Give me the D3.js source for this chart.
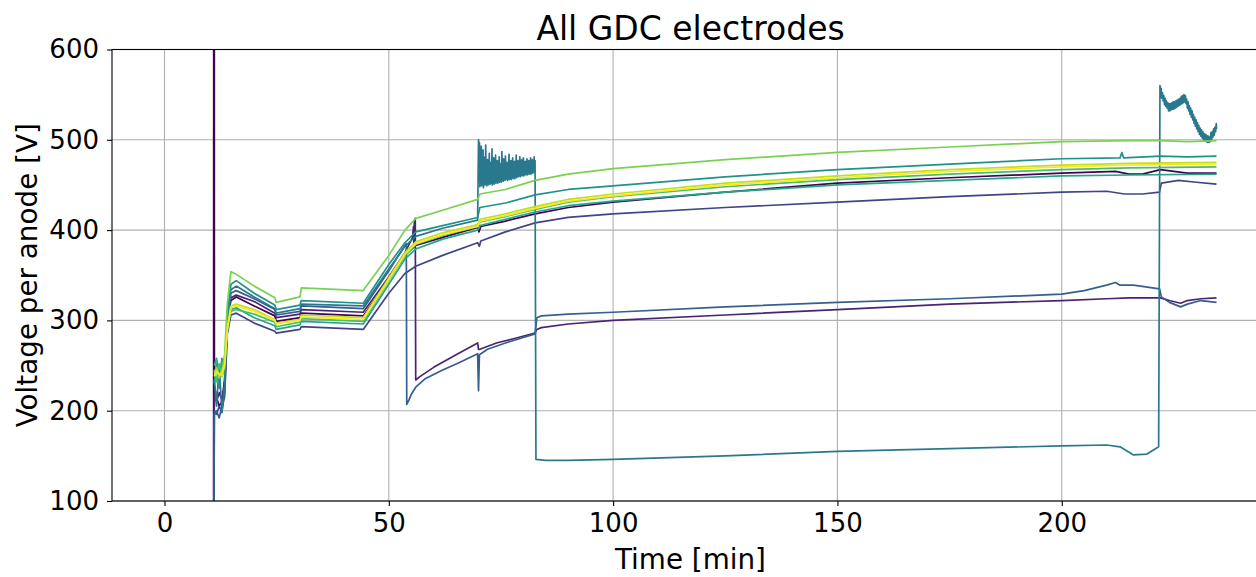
<!DOCTYPE html>
<html>
<head>
<meta charset="utf-8">
<script src="https://cdn.jsdelivr.net/npm/d3@7"></script>
<style>
body { margin: 0; background: #fff; }
svg { display: block; font-family: "DejaVu Sans", sans-serif; }
</style>
</head>
<body>
<svg id="chart" width="1256" height="577"></svg>
<script>
// time [min], voltage per anode [V] for each GDC electrode
var gdc0 = [[10.95,0],[11.0,2000],[11.04,0],[11.08,2000],[11.12,228],[11.6,215],[12.2,205],[12.8,210],[13.4,235],[14.0,300],[14.8,322],[16,326],[20,316],[24.6,305],[24.9,299],[30.2,303],[30.5,308],[44.3,305],[50,345],[53.6,372],[56,383],[62,392],[69.8,403],[70.1,398],[70.5,404],[76,410],[82.6,418],[90,425],[100,431],[125,442],[150,452],[175,458],[200,463],[212,465],[215,462],[218,462],[222,467],[228,463],[234.5,463]];
var gdc1 = [[11.0,0],[11.1,215],[11.6,210],[12.2,220],[12.8,212],[13.4,228],[14.0,300],[14.8,325],[16,328],[20,321],[24.6,308],[24.9,303],[30.2,307],[30.5,312],[44.3,309],[50,348],[53.6,375],[55.3,392],[55.5,404],[55.6,384],[55.7,410],[55.8,388],[55.9,413],[56.0,234],[57,238],[60,248],[65,262],[69.8,275],[70.0,268],[70.3,268],[74,275],[78,280],[82.6,286],[83.0,290],[84,292],[90,296],[100,300],[125,306],[150,312],[175,318],[200,322],[210,324],[215,325],[222,325],[224,322],[226.5,319],[228,322],[231,324],[234.5,325]];
var gdc2 = [[11.0,0],[11.1,200],[11.6,196],[12.2,205],[12.8,198],[13.4,220],[14.0,285],[14.8,306],[16,308],[20,297],[24.6,288],[24.9,286],[30.2,290],[30.5,293],[44.3,290],[50,330],[53.6,352],[56,360],[62,372],[69.8,386],[70.2,382],[70.5,388],[76,398],[82.6,408],[90,414],[100,418],[125,425],[150,431],[175,437],[200,442],[210,443],[214,440],[218,440],[221.8,442],[222.2,452],[226,455],[230,453],[234.5,451]];
var gdc3 = [[11.0,0],[11.1,195],[11.6,200],[12.2,192],[12.8,205],[13.4,215],[14.0,290],[14.8,330],[16,333],[20,324],[24.6,312],[24.9,306],[30.2,310],[30.5,316],[44.3,313],[50,355],[53.6,383],[53.9,385],[54.0,207],[54.5,212],[55,218],[56,226],[58,235],[62,245],[66,254],[69.8,263],[70.0,222],[70.2,262],[72,268],[76,275],[80,281],[82.6,285],[83.0,303],[84,305],[90,307],[100,309],[125,315],[150,320],[175,324],[200,329],[205,333],[210,339],[212,342],[213,339],[216,339],[221.8,335],[222.2,326],[224,320],[226.5,315],[228,318],[231,322],[234.5,320]];
var gdc4 = [[11.1,235],[11.6,205],[12.2,250],[12.8,198],[13.4,230],[14.0,310],[14.8,334],[16,338],[20,326],[24.6,313],[24.9,308],[30.2,313],[30.5,318],[44.3,316],[50,357],[53.6,382],[56,393],[62,402],[69.8,411],
  [70.0,500],[70.1,455],[70.2,497],[70.3,448],[70.4,486],[70.5,452],[70.6,493],[70.7,449],[70.8,470],[70.9,454],[71.0,489],[71.1,447],[71.2,476],[71.3,451],[71.4,481],[71.5,450],[71.6,494],[71.7,452],[71.8,466],[71.9,449],
  [72.0,478],[72.1,453],[72.2,471],[72.3,450],[72.4,485],[72.5,454],[72.6,468],[72.7,451],[72.8,475],[72.9,452],[73.0,490],[73.1,450],[73.2,472],[73.3,453],[73.4,480],[73.5,451],[73.6,467],[73.7,455],[73.8,483],[73.9,452],
  [74.0,470],[74.1,454],[74.2,477],[74.3,452],[74.4,466],[74.5,455],[74.6,481],[74.7,453],[74.8,470],[74.9,456],[75.0,474],[75.1,453],[75.2,487],[75.3,456],[75.4,468],[75.5,454],[75.6,479],[75.7,457],[75.8,469],[75.9,455],
  [76.0,482],[76.1,456],[76.2,471],[76.3,457],[76.4,475],[76.5,455],[76.6,466],[76.7,458],[76.8,484],[76.9,456],[77.0,470],[77.1,458],[77.2,477],[77.3,456],[77.4,469],[77.5,459],[77.6,480],[77.7,457],[77.8,471],[77.9,459],
  [78.0,476],[78.1,457],[78.2,468],[78.3,460],[78.4,483],[78.5,458],[78.6,472],[78.7,460],[78.8,477],[78.9,459],[79.0,469],[79.1,461],[79.2,481],[79.3,459],[79.4,472],[79.5,461],[79.6,478],[79.7,460],[79.8,470],[79.9,462],
  [80.0,480],[80.1,460],[80.2,471],[80.3,462],[80.4,476],[80.5,461],[80.6,469],[80.7,463],[80.8,479],[80.9,461],[81.0,472],[81.1,463],[81.2,477],[81.3,462],[81.4,470],[81.5,464],[81.6,480],[81.7,462],[81.8,473],[81.9,464],
  [82.0,478],[82.1,463],[82.2,471],[82.3,465],[82.4,481],[82.5,464],[82.6,477],
  [82.8,146],[85,145],[90,145],[100,146],[125,150],[150,155],[175,158],[200,161],[210,162],[213,160],[216,151],[219,152],[221.6,160],
  [221.9,560],[222.0,550],[222.15,557],[222.3,546],[222.45,552],[222.6,543],[222.75,549],[222.9,539],[223.05,546],[223.2,537],[223.35,543],[223.5,535],[223.65,541],[223.8,532],[223.95,540],
  [224.1,532],[224.25,540],[224.4,533],[224.55,541],[224.7,534],[224.85,542],[225.0,534],[225.15,542],[225.3,535],[225.45,543],[225.6,536],[225.75,544],[225.9,537],
  [226.05,545],[226.2,538],[226.35,546],[226.5,539],[226.65,548],[226.8,540],[226.95,549],[227.1,541],[227.25,550],[227.4,542],[227.55,549],[227.7,540],[227.85,545],
  [228.0,535],[228.15,542],[228.3,532],[228.45,538],[228.6,528],[228.75,535],[228.9,525],[229.05,532],[229.2,522],[229.35,528],[229.5,518],[229.65,525],[229.8,515],[229.95,522],
  [230.1,512],[230.25,519],[230.4,509],[230.55,516],[230.7,506],[230.85,513],[231.0,504],[231.15,511],[231.3,502],[231.45,509],[231.6,500],[231.75,507],[231.9,499],
  [232.05,506],[232.2,498],[232.35,505],[232.5,497],[232.65,504],[232.8,497],[232.95,503],[233.1,498],[233.25,508],[233.4,500],[233.55,509],[233.7,503],[233.85,512],
  [234.0,505],[234.15,514],[234.3,509],[234.45,518],[234.5,512]];
var gdc5 = [[11.1,230],[11.6,252],[12.2,225],[12.8,258],[13.4,240],[14.0,300],[14.8,340],[16,344],[20,330],[24.6,317],[24.9,312],[30.2,317],[30.5,322],[44.3,319],[50,362],[53.6,386],[56,398],[62,405],[69.8,414],[70.3,425],[76,430],[82.6,439],[90,445],[100,449],[125,459],[150,467],[175,473],[200,479],[213,480],[213.4,486],[213.8,480],[222,482],[228,481],[234.5,482]];
var gdc6 = [[11.1,250],[11.6,258],[12.2,240],[12.8,255],[13.4,245],[14.0,292],[14.8,312],[16,314],[20,303],[24.6,294],[24.9,290],[30.2,295],[30.5,299],[44.3,296],[50,340],[53.6,368],[56,379],[62,390],[69.8,400],[70.3,405],[76,412],[82.6,420],[90,427],[100,432],[125,442],[150,450],[175,455],[200,460],[215,461],[234.5,462]];
var gdc7 = [[11.1,245],[11.6,232],[12.2,252],[12.8,238],[13.4,248],[14.0,288],[14.8,310],[16,312],[20,307],[24.6,298],[24.9,293],[30.2,298],[30.5,302],[44.3,299],[50,344],[53.6,372],[56,384],[62,394],[69.8,404],[70.3,409],[76,415],[82.6,423],[90,431],[100,437],[125,448],[150,456],[175,462],[200,467],[215,469],[234.5,470]];
var gdc8 = [[11.1,242],[11.6,248],[12.2,236],[12.8,244],[13.4,262],[14.0,318],[14.8,354],[16,351],[20,338],[24.6,325],[24.9,320],[30.2,326],[30.5,336],[44.3,333],[50,372],[53.6,400],[56,413],[62,422],[69.8,434],[70.3,440],[76,445],[82.6,455],[90,462],[100,468],[125,478],[150,486],[175,492],[200,498],[215,499],[222,499],[228,498],[234.5,499]];
var gdc9 = [[11.1,240],[11.6,246],[12.2,238],[12.8,244],[13.4,252],[14.0,292],[14.8,316],[16,318],[20,312],[24.6,301],[24.9,297],[30.2,301],[30.5,306],[44.3,303],[50,347],[53.6,375],[56,387],[62,397],[69.8,406],[70.3,412],[76,418],[82.6,426],[90,434],[100,440],[125,452],[150,460],[175,467],[200,472],[215,474],[234.5,475]];
var gdc10 = [[11.1,238],[11.6,243],[12.2,241],[12.8,239],[13.4,250],[14.0,290],[14.8,314],[16,316],[20,310],[24.6,300],[24.9,296],[30.2,300],[30.5,304],[44.3,301],[50,345],[53.6,373],[56,385],[62,395],[69.8,404],[70.3,410],[76,416],[82.6,424],[90,432],[100,438],[125,450],[150,458],[175,465],[200,470],[215,472],[234.5,473]];

var electrodes = [gdc0, gdc1, gdc2, gdc3, gdc4, gdc5, gdc6, gdc7, gdc8, gdc9, gdc10];

var xTicks = [0, 50, 100, 150, 200];
var yTicks = [100, 200, 300, 400, 500, 600];
var xDomain = [-11.7, 246.2];
var yDomain = [100, 600];

var titleText = "All GDC electrodes";
var xLabel = "Time [min]";
var yLabel = "Voltage per anode [V]";

// plot area (right spine falls outside the picture, like the original)
var plotLeft = 112, plotTop = 49.5, plotRight = 1269, plotBottom = 501;

var svg = d3.select("#chart");

var xScale = d3.scaleLinear().domain(xDomain).range([plotLeft, plotRight]);
var yScale = d3.scaleLinear().domain(yDomain).range([plotBottom, plotTop]);

svg.append("defs").append("clipPath")
   .attr("id", "plotclip")
   .append("rect")
   .attr("x", plotLeft).attr("y", plotTop)
   .attr("width", plotRight - plotLeft).attr("height", plotBottom - plotTop);

// grid
var grid = svg.append("g").attr("class", "grid");
grid.selectAll("line.gx")
    .data(xTicks)
    .enter()
    .append("line")
    .attr("x1", function(d) { return xScale(d); })
    .attr("x2", function(d) { return xScale(d); })
    .attr("y1", plotTop).attr("y2", plotBottom)
    .attr("stroke", "#b0b0b0").attr("stroke-width", 1.1);
grid.selectAll("line.gy")
    .data(yTicks)
    .enter()
    .append("line")
    .attr("y1", function(d) { return yScale(d); })
    .attr("y2", function(d) { return yScale(d); })
    .attr("x1", plotLeft).attr("x2", plotRight)
    .attr("stroke", "#b0b0b0").attr("stroke-width", 1.1);

// lines
var line = d3.line()
    .x(function(d) { return xScale(d[0]); })
    .y(function(d) { return yScale(d[1]); });

svg.append("g")
   .attr("clip-path", "url(#plotclip)")
   .selectAll("path")
   .data(electrodes)
   .enter()
   .append("path")
   .attr("d", line)
   .attr("fill", "none")
   .attr("stroke", function(d, i) { return d3.interpolateViridis(i / (electrodes.length - 1)); })
   .attr("stroke-width", 1.7)
   .attr("stroke-linejoin", "round");

// axes
var xAxis = d3.axisBottom(xScale).tickValues(xTicks).tickSize(5).tickPadding(8);
var yAxis = d3.axisLeft(yScale).tickValues(yTicks).tickSize(5).tickPadding(8);

var gx = svg.append("g")
   .attr("transform", "translate(0," + plotBottom + ")")
   .call(xAxis);
var gy = svg.append("g")
   .attr("transform", "translate(" + plotLeft + ",0)")
   .call(yAxis);

[gx, gy].forEach(function(g) {
    g.select(".domain").remove();
    g.selectAll(".tick line").attr("stroke", "#000").attr("stroke-width", 1.1);
    g.selectAll(".tick text")
     .attr("fill", "#000")
     .style("font-family", "'DejaVu Sans', sans-serif")
     .style("font-size", "26px");
});

// spines
svg.append("rect")
   .attr("x", plotLeft).attr("y", plotTop)
   .attr("width", plotRight - plotLeft).attr("height", plotBottom - plotTop)
   .attr("fill", "none")
   .attr("stroke", "#000")
   .attr("stroke-width", 1.1);

// texts
svg.append("text")
   .attr("x", (plotLeft + plotRight) / 2).attr("y", 40)
   .attr("text-anchor", "middle")
   .style("font-size", "33px")
   .text(titleText);

svg.append("text")
   .attr("x", (plotLeft + plotRight) / 2).attr("y", 569)
   .attr("text-anchor", "middle")
   .style("font-size", "27.8px")
   .text(xLabel);

svg.append("text")
   .attr("transform", "translate(37," + ((plotTop + plotBottom) / 2) + ") rotate(-90)")
   .attr("text-anchor", "middle")
   .style("font-size", "27.8px")
   .text(yLabel);
</script>
</body>
</html>
